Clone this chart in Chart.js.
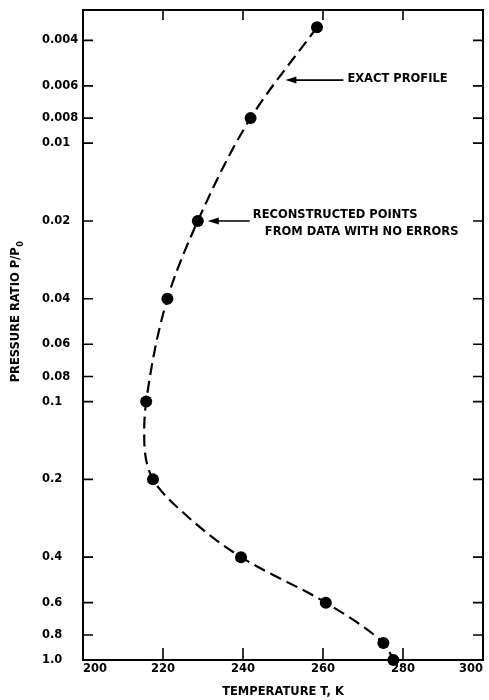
<!DOCTYPE html>
<html>
<head>
<meta charset="utf-8">
<script src="https://cdn.jsdelivr.net/npm/chart.js@4.4.0/dist/chart.umd.min.js"></script>
<style>
html, body { margin:0; padding:0; background:#fff; }
</style>
</head>
<body>
<canvas id="grafico" width="489" height="700"></canvas>
<script>
// reconstructed points (black dots)
var tempPontos    = [258.5, 241.9, 228.7, 221.1, 215.8, 217.5, 239.5, 260.7, 275.1, 277.6];
var pressaoPontos = [0.00356, 0.008, 0.02, 0.04, 0.1, 0.2, 0.4, 0.6, 0.86, 1.0];

// exact profile (dashed curve)
var tempPerfil    = [258.5, 241.9, 228.7, 221.1, 215.8, 215.3, 217.5, 224.7, 239.5, 260.7, 275.1, 277.6];
var pressaoPerfil = [0.00356, 0.008, 0.02, 0.04, 0.1, 0.13, 0.2, 0.266, 0.4, 0.6, 0.86, 1.0];

var xTicks = [200, 220, 240, 260, 280, 300];
var yTicks = [0.004, 0.006, 0.008, 0.01, 0.02, 0.04, 0.06, 0.08, 0.1, 0.2, 0.4, 0.6, 0.8, 1.0];
var yTickLabels = ['0.004', '0.006', '0.008', '0.01', '0.02', '0.04', '0.06', '0.08', '0.1', '0.2', '0.4', '0.6', '0.8', '1.0'];

var tituloX = 'TEMPERATURE T, K';
var tituloY = 'PRESSURE RATIO P/P';
var notaPerfil = 'EXACT PROFILE';
var notaPontos = ['RECONSTRUCTED POINTS', 'FROM DATA WITH NO ERRORS'];

var fonte = { family: 'DejaVu Sans', size: 11.5, weight: 'bold' };
var fonteTxt = 'bold 11.5px "DejaVu Sans"';

var pontos = [];
for (let i = 0; i < tempPontos.length; i++) {
    pontos.push({ x: tempPontos[i], y: pressaoPontos[i] });
}
var perfil = [];
for (let i = 0; i < tempPerfil.length; i++) {
    perfil.push({ x: tempPerfil[i], y: pressaoPerfil[i] });
}

// frame, inner ticks, arrows and notes
var moldura = {
    id: 'moldura',
    afterDraw: function (chart) {
        var ctx = chart.ctx, a = chart.chartArea;
        var sx = chart.scales.x, sy = chart.scales.y;
        ctx.save();
        ctx.strokeStyle = '#000';
        ctx.fillStyle = '#000';
        ctx.lineWidth = 2;
        ctx.beginPath();
        ctx.moveTo(a.left, a.top);
        ctx.lineTo(a.right, a.top);
        ctx.lineTo(a.right, a.bottom);
        ctx.stroke();

        ctx.lineWidth = 1.6;
        ctx.beginPath();
        yTicks.forEach(function (v) {
            if (v >= 1) return;
            var y = sy.getPixelForValue(v);
            ctx.moveTo(a.left, y); ctx.lineTo(a.left + 10, y);
            ctx.moveTo(a.right, y); ctx.lineTo(a.right - 10, y);
        });
        xTicks.forEach(function (v) {
            if (v === 200 || v === 300) return;
            var x = sx.getPixelForValue(v);
            ctx.moveTo(x, a.bottom); ctx.lineTo(x, a.bottom - 12);
            ctx.moveTo(x, a.top); ctx.lineTo(x, a.top + 10);
        });
        ctx.stroke();

        function seta(xPonta, y, xFim) {
            ctx.lineWidth = 1.6;
            ctx.beginPath();
            ctx.moveTo(xPonta + 8, y);
            ctx.lineTo(xFim, y);
            ctx.stroke();
            ctx.beginPath();
            ctx.moveTo(xPonta, y);
            ctx.lineTo(xPonta + 11, y - 3.5);
            ctx.lineTo(xPonta + 11, y + 3.5);
            ctx.closePath();
            ctx.fill();
        }

        ctx.font = fonteTxt;
        ctx.textBaseline = 'middle';
        ctx.textAlign = 'left';

        // exact profile note
        var px = sx.getPixelForValue(250.1), py = sy.getPixelForValue(0.0057);
        seta(px + 2, py, px + 60);
        ctx.fillText(notaPerfil, px + 64, py - 1);

        // reconstructed points note
        var qx = sx.getPixelForValue(tempPontos[2]), qy = sy.getPixelForValue(pressaoPontos[2]);
        seta(qx + 10, qy, qx + 52);
        ctx.fillText(notaPontos[0], qx + 55, qy - 6);
        ctx.fillText(notaPontos[1], qx + 67, qy + 11);

        // y title with subscript
        ctx.translate(16, 312);
        ctx.rotate(-Math.PI / 2);
        var w1 = ctx.measureText(tituloY).width;
        ctx.font = 'bold 8px "DejaVu Sans"';
        var w2 = ctx.measureText('0').width;
        var x0 = -(w1 + w2) / 2;
        ctx.font = fonteTxt;
        ctx.fillText(tituloY, x0, 0);
        ctx.font = 'bold 8px "DejaVu Sans"';
        ctx.fillText('0', x0 + w1 + 0.5, 5);
        ctx.restore();
    }
};

var ctx = document.getElementById('grafico').getContext('2d');
var chart = new Chart(ctx, {
    type: 'scatter',
    data: {
        datasets: [{
            label: 'RECONSTRUCTED POINTS',
            data: pontos,
            pointRadius: 6,
            pointBackgroundColor: '#000',
            pointBorderWidth: 0,
            showLine: false,
            clip: false
        }, {
            label: 'EXACT PROFILE',
            data: perfil,
            indexAxis: 'y',
            showLine: true,
            borderColor: '#000',
            borderWidth: 2.2,
            borderDash: [12, 6],
            cubicInterpolationMode: 'monotone',
            pointRadius: 0,
            clip: false
        }]
    },
    options: {
        responsive: false,
        devicePixelRatio: 1,
        animation: false,
        layout: { padding: { left: 42, top: 7, right: 2, bottom: 0 } },
        plugins: { legend: { display: false }, tooltip: { enabled: false } },
        scales: {
            x: {
                type: 'linear',
                min: 200,
                max: 300,
                bounds: 'data',
                afterBuildTicks: function (s) { s.ticks = xTicks.map(function (v) { return { value: v }; }); },
                afterFit: function (s) { s.height = 40; },
                grid: { display: false, drawTicks: false },
                border: { display: true, color: '#000', width: 2 },
                ticks: { color: '#000', font: fonte, padding: 2, align: 'inner', maxRotation: 0, autoSkip: false },
                title: { display: true, text: tituloX, color: '#000', font: fonte, padding: { top: 4, bottom: 1 } }
            },
            y: {
                type: 'logarithmic',
                min: 0.00305,
                max: 1,
                reverse: true,
                bounds: 'data',
                afterBuildTicks: function (s) { s.ticks = yTicks.map(function (v) { return { value: v }; }); },
                afterFit: function (s) { s.width = 41; },
                grid: { display: false, drawTicks: false },
                border: { display: true, color: '#000', width: 2 },
                ticks: {
                    color: '#000', font: fonte, crossAlign: 'far', autoSkip: false,
                    callback: function (v, i) { return yTickLabels[i]; }
                }
            }
        }
    },
    plugins: [moldura]
});
</script>
</body>
</html>
